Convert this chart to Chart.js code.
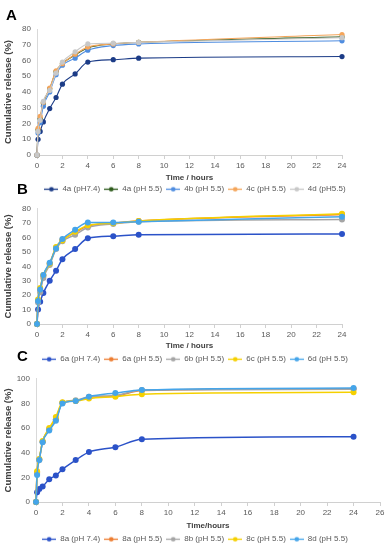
<!DOCTYPE html>
<html lang="en">
<head>
<meta charset="UTF-8">
<title>Cumulative release</title>
<script src="https://cdn.jsdelivr.net/npm/chart.js"></script>
<style>
  body { margin: 0; background: #fff; font-family: 'Liberation Sans', Arial, sans-serif; }
  .panel { position: absolute; left: 0; width: 390px; }
  .letter { position: absolute; font-weight: bold; font-size: 15px; line-height: 15px; color: #000; z-index: 2; }
</style>
</head>
<body>
<div class="panel" style="top:0;height:198px"><canvas id="chartA"></canvas></div>
<div class="panel" style="top:198px;height:170px"><canvas id="chartB"></canvas></div>
<div class="panel" style="top:368px;height:182px"><canvas id="chartC"></canvas></div>
<div class="letter" style="left:6px;top:7px">A</div>
<div class="letter" style="left:17px;top:181px">B</div>
<div class="letter" style="left:17px;top:348px">C</div>

<script>
// sampling times (h)
const hours = [0, 0.083, 0.25, 0.5, 1, 1.5, 2, 3, 4, 6, 8, 24];

// panel A
const labelsA = ['4a (pH7.4)', '4a (pH 5.5)', '4b (pH 5.5)', '4c (pH 5.5)', '4d (pH5.5)'];
const a4a74 = [0, 10, 15, 21, 29.5, 36.5, 45, 51.5, 59, 60.5, 61.5, 62.5];
const a4a55 = [0, 16, 23, 33, 42, 53, 58, 63.5, 68, 70.5, 71.5, 75];
const a4b55 = [0, 14, 20.5, 31, 40, 51, 57, 61.5, 66.5, 69.5, 70.5, 72.5];
const a4c55 = [0, 17, 24.5, 33.5, 42.5, 53.5, 58, 64, 68.5, 70.5, 71.5, 76.5];
const a4d55 = [0, 15, 22, 34, 41, 52, 59, 65.5, 70.5, 71, 71.5, 74.5];

// panel B
const labelsB = ['6a (pH 7.4)', '6a (pH 5.5)', '6b (pH 5.5)', '6c (pH 5.5)', '6d (pH 5.5)'];
const b6a74 = [0, 10, 15.5, 21.5, 30, 37, 45, 52, 59.5, 61, 62, 62.5];
const b6a55 = [0, 16, 24, 33.5, 42, 53, 58.5, 63.5, 68, 70, 71.5, 76];
const b6b55 = [0, 15, 22, 32, 41, 52, 57.5, 62, 67, 69.5, 71, 72.5];
const b6c55 = [0, 17, 25, 34, 42, 53.5, 58, 64, 68.5, 70, 71.5, 76.5];
const b6d55 = [0, 16, 24, 34, 42.5, 52.5, 59, 65.5, 70.5, 70.5, 71, 74.5];

// panel C
const labelsC = ['8a (pH 7.4)', '8a (pH 5.5)', '8b (pH 5.5)', '8c (pH 5.5)', '8d (pH 5.5)'];
const c8a74 = [0, 8, 10.5, 12.5, 18.5, 21.5, 26.5, 34, 40.5, 44.5, 51, 53];
const c8a55 = [0, 24, 34.5, 49, 59, 67, 80.5, 82, 85, 86, 90.5, 92];
const c8b55 = [0, 23, 34, 49, 59, 67, 80.5, 82.5, 85.5, 86.5, 91, 91.5];
const c8c55 = [0, 25, 35, 49.5, 60, 69, 81, 82, 84, 85.5, 87.5, 89];
const c8d55 = [0, 22, 34, 48.5, 58, 66, 80, 82, 85.5, 88.5, 91, 92.5];

const colorsA = ['#1c3c87', '#2d5a1b', '#4f8de0', '#f4a55a', '#c8c8c8'];
const colorsBC = ['#2b52c8', '#ed7d31', '#a5a5a5', '#f5d000', '#45a5ea'];

function lineMark(color) {
  const c = document.createElement('canvas');
  c.width = 14; c.height = 7;
  const ctx = c.getContext('2d');
  ctx.strokeStyle = color; ctx.lineWidth = 1.3;
  ctx.beginPath(); ctx.moveTo(0, 3.5); ctx.lineTo(14, 3.5); ctx.stroke();
  ctx.fillStyle = color;
  ctx.beginPath(); ctx.arc(7, 3.5, 2.3, 0, Math.PI * 2); ctx.fill();
  return c;
}

function makeChart(id, p) {
  const n = p.series.length;
  const datasets = p.series.map((vals, i) => ({
    label: p.labels[i],
    data: vals.map((v, j) => ({ x: hours[j], y: v })),
    borderColor: p.colors[i],
    backgroundColor: p.colors[i],
    borderWidth: p.lw,
    pointRadius: p.r,
    pointBorderWidth: 0,
    cubicInterpolationMode: 'monotone',
    clip: false,
    order: n - i
  }));
  const pad = 4, lh = 9.6;
  const legendTop = p.legendY - (pad + lh / 2);
  new Chart(document.getElementById(id), {
    type: 'line',
    data: { datasets },
    options: {
      responsive: true,
      maintainAspectRatio: false,
      animation: false,
      layout: { padding: { top: p.top, right: 0, left: 0, bottom: 0 } },
      plugins: {
        tooltip: { enabled: false },
        legend: {
          position: 'bottom',
          maxHeight: p.height - legendTop,
          labels: {
            usePointStyle: true,
            pointStyleWidth: 14,
            padding: pad,
            color: '#595959',
            font: { family: 'Liberation Sans', size: 8 },
            generateLabels: (chart) => chart.data.datasets.map((ds, i) => ({
              text: ds.label,
              pointStyle: lineMark(ds.borderColor),
              fillStyle: ds.borderColor,
              strokeStyle: ds.borderColor,
              fontColor: '#595959',
              lineWidth: 0,
              hidden: false,
              datasetIndex: i
            }))
          }
        }
      },
      scales: {
        x: {
          type: 'linear', min: 0, max: p.xmax,
          ticks: { stepSize: 2, padding: 2, color: '#595959', font: { family: 'Liberation Sans', size: 8 } },
          grid: { drawOnChartArea: false, color: '#d0d0d0', tickLength: 4 },
          border: { color: '#d0d0d0' },
          title: {
            display: true, text: p.xtitle, color: '#404040',
            font: { family: 'Liberation Sans', size: 8, weight: 'bold' },
            padding: { top: 0, bottom: legendTop - lh / 2 - p.titleY }
          },
          afterFit: (s) => { s.height = legendTop - p.bottom; }
        },
        y: {
          min: 0, max: p.ymax,
          ticks: { stepSize: p.ystep, padding: 6, color: '#595959', font: { family: 'Liberation Sans', size: 8 } },
          grid: { drawOnChartArea: false, drawTicks: false },
          border: { color: '#d9d9d9' },
          title: {
            display: true, text: 'Cumulative release (%)', color: '#404040',
            font: { family: 'Liberation Sans', size: 9.5, weight: 'bold' },
            padding: { top: 3, bottom: 0 }
          },
          afterFit: (s) => { s.width = p.left; }
        },
        // empty right margin so the legend stays centred on the whole figure
        yRight: {
          position: 'right',
          ticks: { display: false },
          grid: { display: false },
          border: { display: false },
          afterFit: (s) => { s.width = 390 - p.right; }
        }
      }
    }
  });
}

makeChart('chartA', {
  labels: labelsA, series: [a4a74, a4a55, a4b55, a4c55, a4d55], colors: colorsA,
  lw: 1.1, r: 2.6, height: 198, top: 29, bottom: 155, left: 37, right: 342,
  legendY: 190, titleY: 178, xmax: 24, ymax: 80, ystep: 10, xtitle: 'Time / hours'
});
makeChart('chartB', {
  labels: labelsB, series: [b6a74, b6a55, b6b55, b6c55, b6d55], colors: colorsBC,
  lw: 1.5, r: 3, height: 170, top: 6, bottom: 126, left: 37, right: 342,
  legendY: 162, titleY: 148, xmax: 24, ymax: 80, ystep: 10, xtitle: 'Time / hours'
});
makeChart('chartC', {
  labels: labelsC, series: [c8a74, c8a55, c8b55, c8c55, c8d55], colors: colorsBC,
  lw: 1.5, r: 3, height: 182, top: 6, bottom: 134, left: 36, right: 380,
  legendY: 172, titleY: 158, xmax: 26, ymax: 100, ystep: 20, xtitle: 'Time/hours'
});
</script>
</body>
</html>
